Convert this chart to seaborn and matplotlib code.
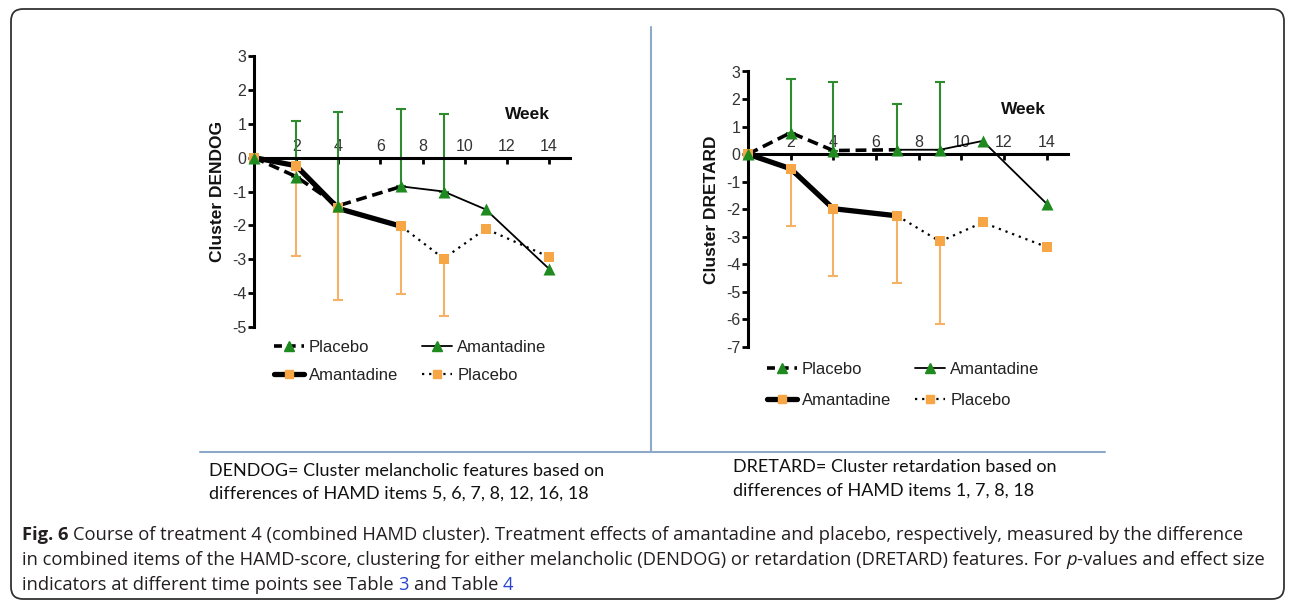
import numpy as np
import pandas as pd
import seaborn as sns
import matplotlib.pyplot as plt
from matplotlib.lines import Line2D
from matplotlib.patches import FancyBboxPatch


# -----------------------------------------------------------------------------
# Data
# -----------------------------------------------------------------------------
weeks = [0, 2, 4, 7, 9, 11, 14]
switch_week = 7
xticks = [2, 4, 6, 8, 10, 12, 14]

# DENDOG: green = placebo -> amantadine, orange = amantadine -> placebo
dendog_green = [0, -0.56, -1.42, -0.85, -1.00, -1.53, -3.28]
dendog_green_hi = [np.nan, 1.09, 1.34, 1.44, 1.29, np.nan, np.nan]
dendog_orange = [0, -0.24, -1.50, -2.03, -2.98, -2.10, -2.93]
dendog_orange_lo = [np.nan, -2.91, -4.20, -4.04, -4.67, np.nan, np.nan]

# DRETARD
dretard_green = [0, 0.78, 0.13, 0.16, 0.16, 0.48, -1.80]
dretard_green_hi = [np.nan, 2.72, 2.63, 1.82, 2.63, np.nan, np.nan]
dretard_orange = [0, -0.53, -1.98, -2.24, -3.17, -2.48, -3.37]
dretard_orange_lo = [np.nan, -2.59, -4.41, -4.68, -6.15, np.nan, np.nan]

legend_labels = ["Placebo", "Amantadine", "Amantadine", "Placebo"]

GREEN = "#1f8a1f"
GREEN_ERR = "#2e8b2e"
ORANGE = "#f7a646"
ORANGE_ERR = "#f5b267"
LINE = "#8ea8c7"

W, H = 1293, 603

sns.set_style("ticks")
plt.rcParams["font.family"] = ["Liberation Sans", "DejaVu Sans"]
plt.rcParams["axes.unicode_minus"] = False

fig = plt.figure(figsize=(W / 100, H / 100), dpi=100)
ax1 = fig.add_axes([254 / W, 1 - 327 / H, 316 / W, 271 / H])
ax2 = fig.add_axes([748 / W, 1 - 347 / H, 320 / W, 275.5 / H])


def panel(ax, green, green_hi, orange, orange_lo, ylim, ylabel, week_pos):
    df = pd.DataFrame({"week": weeks, "green": green, "green_hi": green_hi,
                       "orange": orange, "orange_lo": orange_lo})
    p1 = df[df["week"] <= switch_week]
    p2 = df[df["week"] >= switch_week]

    # one-sided error bars
    e = df.dropna(subset=["green_hi"])
    ax.errorbar(e["week"], e["green"], yerr=[np.zeros(len(e)), e["green_hi"] - e["green"]],
                fmt="none", ecolor=GREEN_ERR, elinewidth=1.5, capsize=3.5, capthick=1.5,
                zorder=1, clip_on=False)
    e = df.dropna(subset=["orange_lo"])
    ax.errorbar(e["week"], e["orange"], yerr=[e["orange"] - e["orange_lo"], np.zeros(len(e))],
                fmt="none", ecolor=ORANGE_ERR, elinewidth=1.5, capsize=3.5, capthick=1.5,
                zorder=1, clip_on=False)

    # lines, phase 1 and phase 2
    sns.lineplot(x="week", y="green", data=p1, color="black", lw=2.6, linestyle=(0, (3, 1.6)), ax=ax, zorder=2)
    sns.lineplot(x="week", y="green", data=p2, color="black", lw=1.3, ax=ax, zorder=2)
    sns.lineplot(x="week", y="orange", data=p1, color="black", lw=3.8, ax=ax, zorder=2)
    sns.lineplot(x="week", y="orange", data=p2, color="black", lw=1.6, linestyle=(0, (1, 2.2)), ax=ax, zorder=2)

    # markers
    sns.scatterplot(x="week", y="orange", data=df, marker="s", s=55, color=ORANGE,
                    linewidth=0, ax=ax, zorder=4, clip_on=False)
    sns.scatterplot(x="week", y="green", data=df, marker="^", s=75, color=GREEN,
                    linewidth=0, ax=ax, zorder=5, clip_on=False)

    ax.set_xlim(0, 15)
    ax.set_ylim(*ylim)
    ax.spines["bottom"].set_position(("data", 0))
    ax.spines[["top", "right"]].set_visible(False)
    for s in ["left", "bottom"]:
        ax.spines[s].set_linewidth(2.2)
        ax.spines[s].set_color("black")
    ax.set_xticks(xticks)
    ax.set_yticks(range(ylim[0], ylim[1] + 1))
    ax.tick_params(axis="x", direction="out", length=4, width=2, pad=-17.5,
                   labelsize=11.5, labelcolor="#333333", color="black")
    ax.tick_params(axis="y", direction="out", length=4, width=2, pad=1.5,
                   labelsize=11.5, labelcolor="#333333", color="black")
    ax.set_ylabel(ylabel, fontsize=12.5, fontweight="bold", color="#111111")
    ax.yaxis.set_label_coords(-0.092, 0.5)
    ax.set_xlabel("Week", fontsize=12.5, fontweight="bold", color="#111111")
    ax.xaxis.set_label_coords(*week_pos)


panel(ax1, dendog_green, dendog_green_hi, dendog_orange, dendog_orange_lo,
      (-5, 3), "Cluster DENDOG", (0.865, 0.81))
panel(ax2, dretard_green, dretard_green_hi, dretard_orange, dretard_orange_lo,
      (-7, 3), "Cluster DRETARD", (0.86, 0.89))

# Legends
handles = [
    Line2D([], [], color="black", lw=2.6, ls=(0, (2.2, 1.6)), marker="^", mfc=GREEN, mec=GREEN, ms=6.5),
    Line2D([], [], color="black", lw=3.8, marker="s", mfc=ORANGE, mec=ORANGE, ms=6),
    Line2D([], [], color="black", lw=1.3, marker="^", mfc=GREEN, mec=GREEN, ms=6.5),
    Line2D([], [], color="black", lw=1.6, ls=(0, (1, 2.2)), marker="s", mfc=ORANGE, mec=ORANGE, ms=6),
]
for anchor, lsp in [((274 / W, 1 - 340 / H), 0.75), ((767 / W, 1 - 362 / H), 0.95)]:
    fig.legend(handles, legend_labels, ncol=2, loc="upper left", bbox_to_anchor=anchor,
               frameon=False, fontsize=12, handlelength=1.8, handletextpad=0.3,
               columnspacing=1.45, labelspacing=lsp, borderpad=0, borderaxespad=0,
               labelcolor="#222222")

# Frame, divider lines
fig.add_artist(FancyBboxPatch((11 / 100, 4 / 100), 1273 / 100, 590 / 100,
                              boxstyle="round,pad=0,rounding_size=0.12",
                              transform=fig.dpi_scale_trans, fill=False, ec="#333333", lw=1.3))
fig.add_artist(Line2D([651 / W, 651 / W], [1 - 27 / H, 1 - 452 / H], color=LINE, lw=1.5))
fig.add_artist(Line2D([200 / W, 1105 / W], [1 - 452 / H, 1 - 452 / H], color=LINE, lw=1.5))

# Notes under the panels
note_font = ["Lato", "DejaVu Sans"]
note_kw = dict(family=note_font, fontsize=13, va="center", color="#111111")
fig.text(209 / W, 1 - 471 / H, "DENDOG= Cluster melancholic features based on", **note_kw)
fig.text(209 / W, 1 - 494 / H, "differences of HAMD items 5, 6, 7, 8, 12, 16, 18", **note_kw)
fig.text(733 / W, 1 - 467 / H, "DRETARD= Cluster retardation based on", **note_kw)
fig.text(733 / W, 1 - 491 / H, "differences of HAMD items 1, 7, 8, 18", **note_kw)

# Caption (mixed styles on one line)
cap_font = ["Open Sans", "DejaVu Sans"]
cap_kw = dict(family=cap_font, fontsize=13.2, color="#231f20")
renderer = fig.canvas.get_renderer()
t1 = fig.text(0, 0, "aa", **cap_kw)
t2 = fig.text(0, 0, "a a", **cap_kw)
space_w = t2.get_window_extent(renderer).width - t1.get_window_extent(renderer).width
t1.remove()
t2.remove()

caption = [
    (535, [("Fig. 6", dict(fontweight="bold"), False),
           ("Course of treatment 4 (combined HAMD cluster). Treatment effects of amantadine and placebo, "
            "respectively, measured by the difference", {}, True)]),
    (560, [("in combined items of the HAMD-score, clustering for either melancholic (DENDOG) or "
            "retardation (DRETARD) features. For", {}, False),
           ("p", dict(style="italic"), True),
           ("-values and effect size", {}, False)]),
    (585, [("indicators at different time points see Table", {}, False),
           ("3", dict(color="#2a45d0"), True),
           ("and Table", {}, True),
           ("4", dict(color="#2a45d0"), True)]),
]
for y_px, segs in caption:
    x = 22
    for text, kw, gap in segs:
        if gap:
            x += space_w
        t = fig.text(x / W, 1 - y_px / H, text, va="center", ha="left", **{**cap_kw, **kw})
        x += t.get_window_extent(renderer).width

fig.savefig("out.png", dpi=100)
